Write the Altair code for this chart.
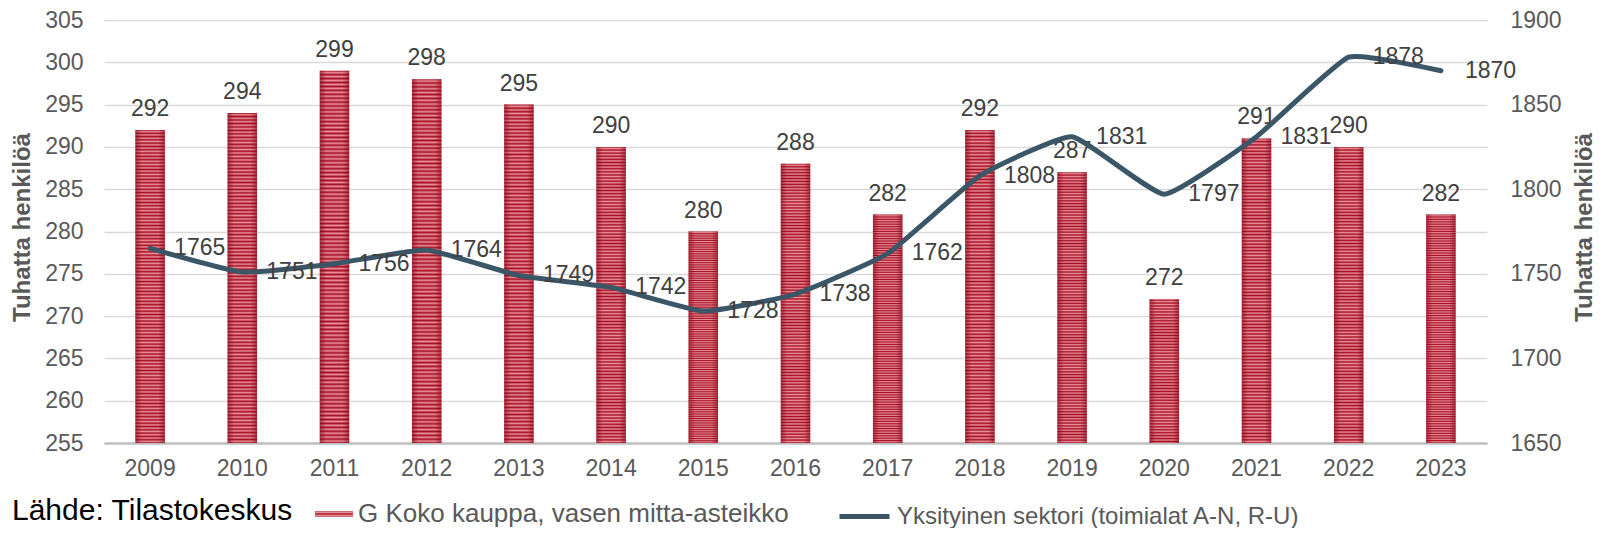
import altair as alt
import pandas as pd

years = ["2009", "2010", "2011", "2012", "2013", "2014", "2015", "2016",
         "2017", "2018", "2019", "2020", "2021", "2022", "2023"]
kauppa = [292, 294, 299, 298, 295, 290, 280, 288, 282, 292, 287, 272, 291, 290, 282]
yksityinen = [1765, 1751, 1756, 1764, 1749, 1742, 1728, 1738, 1762, 1808, 1831, 1797, 1831, 1878, 1870]
left_ticks = [255, 260, 265, 270, 275, 280, 285, 290, 295, 300, 305]
right_ticks = [1650, 1700, 1750, 1800, 1850, 1900]
series_bar = "G Koko kauppa, vasen mitta-asteikko"
series_line = "Yksityinen sektori (toimialat A-N, R-U)"
axis_title = "Tuhatta henkilöä"
source_text = "Lähde: Tilastokeskus"

df = pd.DataFrame({"year": years, "kauppa": kauppa, "yksityinen": yksityinen,
                   "s1": series_bar, "s2": series_line})

FONT = "Liberation Sans, Arial, sans-serif"
NARROW = "Liberation Sans Narrow, Liberation Sans, Arial, sans-serif"
DARK = "#a50f22"
LIGHT = "#ea8f9a"
LINE = "#3b5666"

# horizontal stripe texture
stops = []
n = 95
for i in range(n):
    a = i / n
    b = (i + 0.5) / n
    stops += [alt.GradientStop(offset=a, color=DARK), alt.GradientStop(offset=b, color=LIGHT)]
stops.append(alt.GradientStop(offset=1, color=DARK))
stripes = alt.LinearGradient(gradient="linear", stops=stops, x1=0, x2=0, y1=0, y2=1)
edges = alt.LinearGradient(gradient="linear", x1=0, x2=1, y1=0, y2=0, stops=[
    alt.GradientStop(offset=0, color="rgba(130,0,20,0.55)"),
    alt.GradientStop(offset=0.22, color="rgba(130,0,20,0)"),
    alt.GradientStop(offset=0.78, color="rgba(130,0,20,0)"),
    alt.GradientStop(offset=1, color="rgba(130,0,20,0.55)"),
])

x = alt.X("year:O", title=None,
          scale=alt.Scale(paddingInner=0.68, paddingOuter=0.34),
          axis=alt.Axis(labelAngle=0, labelFont=FONT, labelFontSize=23, labelColor="#595959",
                        labelPadding=14, ticks=False, domainColor="#bfbfbf", domainWidth=2.5,
                        grid=False))

yl_scale = alt.Scale(domain=[255, 305], nice=False, zero=False)
yr_scale = alt.Scale(domain=[1650, 1900], nice=False, zero=False)

yl_axis = alt.Axis(values=left_ticks, title=axis_title, titleFont=FONT, titleFontSize=24,
                   titleFontWeight="bold", titleColor="#595959", titleAngle=270,
                   titleBaseline="middle", titleX=-82, titleY=207,
                   labelFont=FONT, labelFontSize=23, labelColor="#595959", labelPadding=21,
                   ticks=False, domain=False, grid=True, gridColor="#d9d9d9", gridWidth=1.5)
yr_axis = alt.Axis(orient="right", values=right_ticks, format="d", title=axis_title, titleFont=FONT,
                   titleFontSize=24, titleFontWeight="bold", titleColor="#595959",
                   titleAngle=270, titleBaseline="middle", titleX=97, titleY=207,
                   labelFont=FONT, labelFontSize=23, labelColor="#595959", labelPadding=23,
                   ticks=False, domain=False, grid=False)

yl = alt.Y("kauppa:Q", scale=yl_scale, axis=yl_axis, title=axis_title)
yr = alt.Y("yksityinen:Q", scale=yr_scale, axis=yr_axis, title=axis_title)

base = alt.Chart(df)

bars = base.mark_bar(color=stripes).encode(
    x=x, y=yl, y2=alt.datum(255),
    opacity=alt.Opacity("s1:N", scale=alt.Scale(range=[1]),
                        legend=alt.Legend(title=source_text, titleOrient="left", titleFont=NARROW,
                                          titleFontSize=30, titleFontWeight="normal",
                                          titleColor="#000000", titlePadding=22, titleLimit=1000,
                                          titleBaseline="middle",
                                          orient="none", legendX=-92, legendY=475,
                                          symbolType="M-1,-0.15L1,-0.15L1,0.15L-1,0.15Z",
                                          symbolSize=1444, symbolFillColor="#bb2234",
                                          symbolStrokeWidth=0, labelFont=FONT, labelFontSize=26,
                                          labelColor="#595959", labelOffset=5, labelLimit=1000,
                                          padding=0)),
)
overlay = base.mark_bar(color=edges).encode(x=x, y=yl, y2=alt.datum(255))
bar_text = base.mark_text(font=FONT, fontSize=23, color="#404040", baseline="alphabetic", dy=-14).encode(
    x=x, y=yl, text=alt.Text("kauppa:Q"))

left = alt.layer(bars, overlay, bar_text)

line = base.mark_line(strokeWidth=5, interpolate="cardinal", tension=0.6, strokeCap="round").encode(
    x=x, y=yr,
    color=alt.Color("s2:N", scale=alt.Scale(range=[LINE]),
                    legend=alt.Legend(title=None, orient="none", legendX=733, legendY=469,
                                      symbolType="stroke", symbolStrokeWidth=5, symbolSize=2500,
                                      labelFont=FONT, labelFontSize=24, labelColor="#595959",
                                      labelOffset=5, labelLimit=1000, padding=0)),
)
line_text = base.mark_text(font=FONT, fontSize=23, color="#404040", align="left", baseline="middle",
                           dx=24).encode(
    x=x, y=yr, text=alt.Text("yksityinen:Q"))

right = alt.layer(line, line_text)

chart = alt.layer(left, right).resolve_scale(y="independent").properties(
    width=1383, height=423,
    padding={"left": 96, "top": 12, "right": 108, "bottom": 85},
    autosize=alt.AutoSizeParams(type="none"),
).configure(background="white").configure_view(stroke=None)

chart.save("out.html", embed_options={"renderer": "svg", "actions": False})
